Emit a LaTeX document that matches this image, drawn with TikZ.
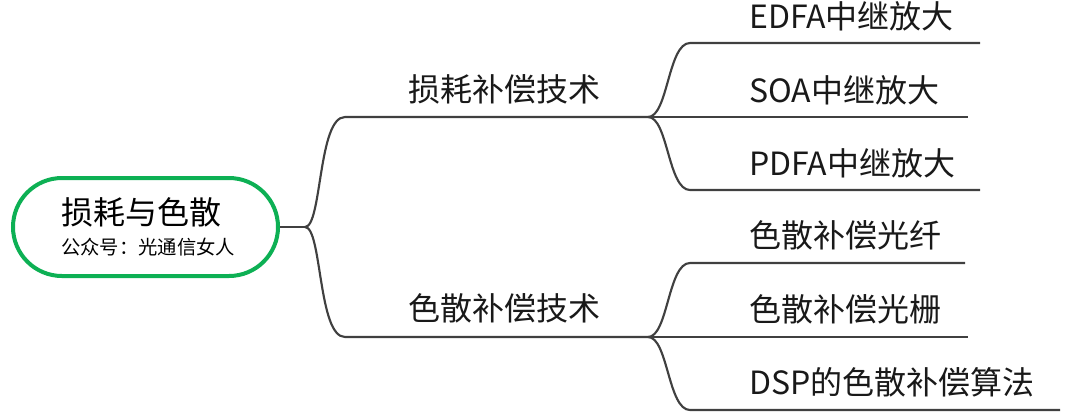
\documentclass[tikz,border=0pt]{standalone}
\usepackage{fontspec}
\setmainfont{Noto Sans CJK SC}
\definecolor{rootgreen}{rgb}{0.05,0.69,0.33}
\definecolor{linegray}{rgb}{0.25,0.25,0.25}
\tikzset{
  branch/.style={draw=linegray,line width=1.6pt},
  lbl/.style={anchor=base west,inner sep=0pt,font=\fontsize{24pt}{26pt}\selectfont,text=black!90}
}
\begin{document}
\begin{tikzpicture}[x=0.75pt,y=-0.75pt]
\useasboundingbox (0,0) rectangle (1080,419);
% root
\node[draw=rootgreen,line width=3pt,rounded corners=49*0.75pt,minimum width=265*0.75pt,minimum height=98*0.75pt,inner sep=0pt] (root) at (145.5,227) {};
\node[anchor=base,font=\fontsize{24pt}{26pt}\selectfont] (roottitle) at (141,224) {损耗与色散};
\node[anchor=base,font=\fontsize{14.5pt}{16pt}\selectfont] (rootsub) at (148,254) {公众号：光通信女人};
\coordinate (hub) at (305,227);
\draw[branch] (root.east) -- (hub);
% branches
\coordinate (b1s) at (345,117); \coordinate (b1e) at (648,117);
\coordinate (b2s) at (345,337); \coordinate (b2e) at (648,337);
\node[lbl] (b1) at (408,101) {损耗补偿技术};
\node[lbl] (b2) at (408,320) {色散补偿技术};
\draw[branch] (hub) .. controls (322,227) and (318,117) .. (b1s) -- (b1e);
\draw[branch] (hub) .. controls (322,227) and (318,337) .. (b2s) -- (b2e);
% leaves
\foreach \nm/\y/\xe/\txt in {la/43/980/EDFA中继放大,lb/117/968/SOA中继放大,lc/190/980/PDFA中继放大}{
  \coordinate (\nm s) at (690,\y); \coordinate (\nm e) at (\xe,\y);
  \node[lbl] (\nm) at (749,\y-15) {\txt};
  \draw[branch] (b1e) .. controls (668,117) and (668,\y) .. (\nm s) -- (\nm e);
}
\foreach \nm/\y/\xe/\txt in {ld/263/965/色散补偿光纤,le/337/968/色散补偿光栅,lf/410/1060/DSP的色散补偿算法}{
  \coordinate (\nm s) at (690,\y); \coordinate (\nm e) at (\xe,\y);
  \node[lbl] (\nm) at (749,\y-16) {\txt};
  \draw[branch] (b2e) .. controls (668,337) and (668,\y) .. (\nm s) -- (\nm e);
}
\end{tikzpicture}
\end{document}
